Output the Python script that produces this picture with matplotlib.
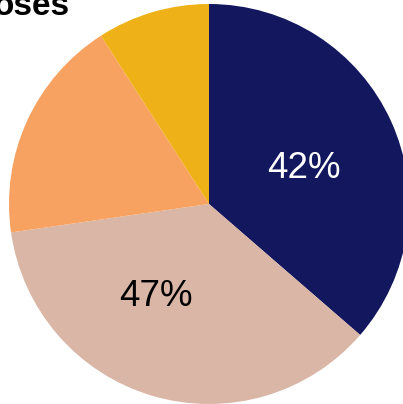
import matplotlib.pyplot as plt

# slice data (clockwise from 12 o'clock)
values = [4, 4, 2, 1]
colors = ["#12175E", "#D9B6A5", "#F8A261", "#EEB117"]
labels = ["42%", "47%", "", ""]
label_colors = ["white", "black", "black", "black"]
label_pos = [(0.475, 0.18), (-0.265, -0.465), (0, 0), (0, 0)]
title = "oses"

plt.rcParams["font.family"] = ["Liberation Sans", "DejaVu Sans"]

fig = plt.figure(figsize=(4.03, 4.04), dpi=100)
ax = fig.add_axes([9 / 403, 0, 400 / 403, 400 / 404])

ax.pie(values, colors=colors, startangle=90, counterclock=False,
       radius=1.0, wedgeprops=dict(linewidth=0))

for lab, c, (x, y) in zip(labels, label_colors, label_pos):
    if lab:
        ax.text(x, y, lab, color=c, fontsize=26.5, ha="center", va="center")

ax.set_xlim(-1, 1)
ax.set_ylim(-1, 1)
ax.set_aspect("equal")
ax.axis("off")

# title is partly outside the figure in the reference
fig.text(70 / 403, 1 - 15 / 404, title, ha="right", va="baseline",
         fontsize=24, fontweight="bold")

plt.savefig("out.png", dpi=100)
